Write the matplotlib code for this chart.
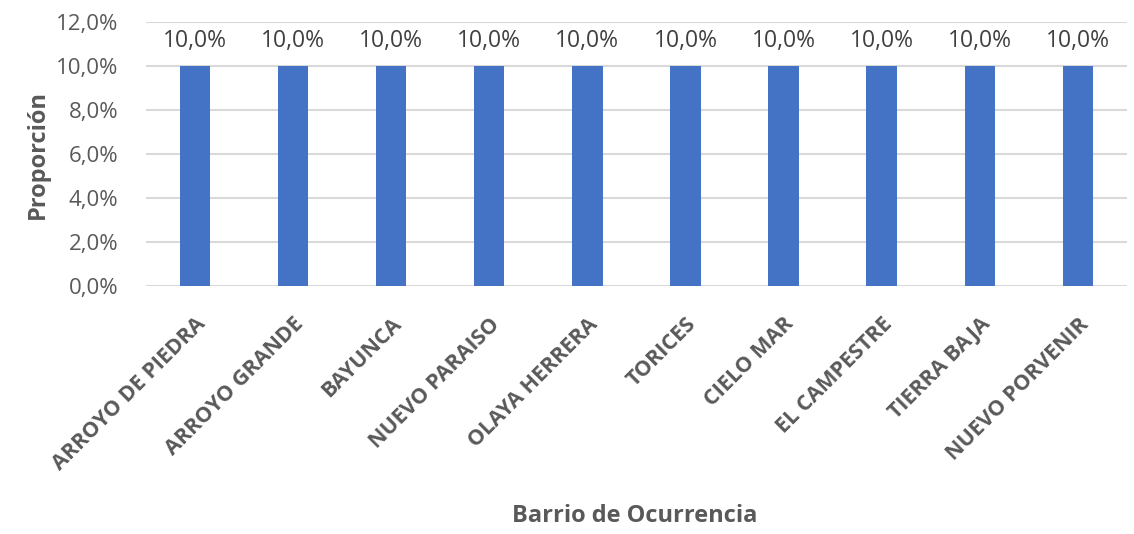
import matplotlib; matplotlib.use('Agg')
import matplotlib.pyplot as plt
from matplotlib.ticker import FuncFormatter

barrios = ["ARROYO DE PIEDRA", "ARROYO GRANDE", "BAYUNCA", "NUEVO PARAISO", "OLAYA HERRERA",
           "TORICES", "CIELO MAR", "EL CAMPESTRE", "TIERRA BAJA", "NUEVO PORVENIR"]
proporcion = [0.10, 0.10, 0.10, 0.10, 0.10, 0.10, 0.10, 0.10, 0.10, 0.10]
yticks = [0.0, 0.02, 0.04, 0.06, 0.08, 0.10, 0.12]

plt.rcParams['font.family'] = ['Open Sans', 'DejaVu Sans']
gray = '#595959'

fig = plt.figure(figsize=(11.34, 5.34), dpi=100)
ax = fig.add_axes([0.1287, 0.4644, 0.865, 0.4944])

x = range(len(barrios))
bars = ax.bar(x, proporcion, width=0.31, color='#4472C4', zorder=3)
for xi, v in zip(x, proporcion):
    ax.text(xi, v + 0.0058, f"{v*100:.1f}%".replace('.', ','), ha='center', va='bottom',
            fontsize=16.5, color='#404040')

ax.set_xlim(-0.5, len(barrios) - 0.5)
ax.set_ylim(0, 0.12)
ax.set_yticks(yticks)
ax.yaxis.set_major_formatter(FuncFormatter(lambda v, p: f"{v*100:.1f}%".replace('.', ',')))
ax.grid(axis='y', color='#d9d9d9', lw=1.5, zorder=0)
for s in ax.spines.values():
    s.set_visible(False)
ax.tick_params(axis='both', length=0, colors=gray)
ax.tick_params(axis='y', pad=20, labelsize=16)
ax.set_xticks(list(x))
ax.set_xticklabels(barrios, rotation=45, ha='right', rotation_mode='anchor',
                   fontsize=15.5, fontweight='bold', color=gray)
ax.tick_params(axis='x', pad=20)
ax.set_ylabel("Proporción", fontsize=17, fontweight='bold', color=gray, labelpad=4)
fig.text(0.56, 0.012, "Barrio de Ocurrencia", ha='center', va='bottom',
         fontsize=17, fontweight='bold', color=gray)

fig.savefig("out.png", dpi=100)
